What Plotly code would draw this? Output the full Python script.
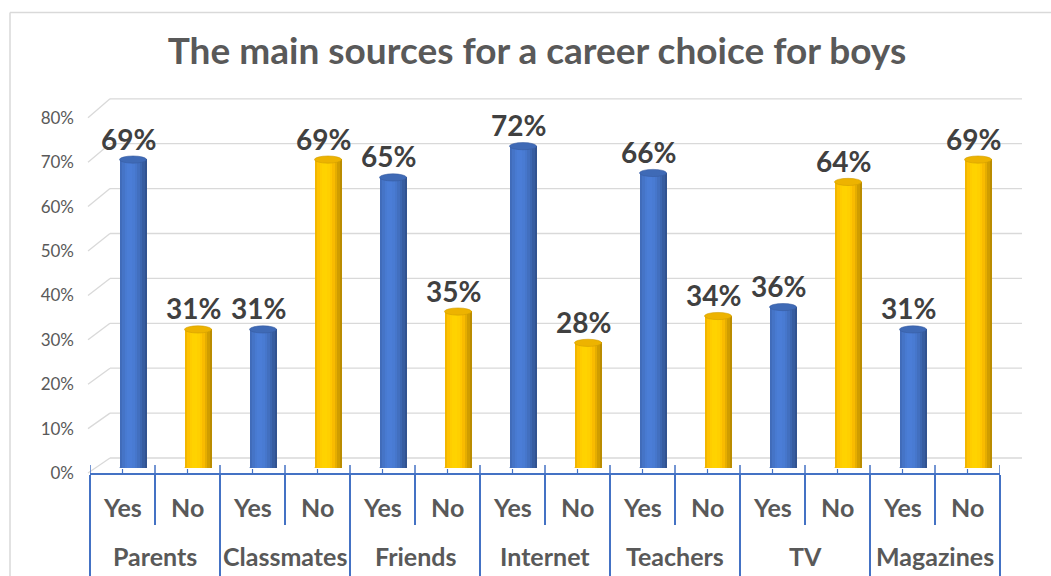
import math
import plotly.graph_objects as go

# ---- data ----
sources = ["Parents", "Classmates", "Friends", "Internet", "Teachers", "TV", "Magazines"]
answers = ["Yes", "No"]
yes_pct = [69, 31, 65, 72, 66, 36, 31]
no_pct = [31, 69, 35, 28, 34, 64, 69]
y_ticks = [0, 10, 20, 30, 40, 50, 60, 70, 80]

W, H = 1051, 576
FONT = "Lato"
GREY = "#595959"
AXIS_BLUE = "#4472C4"
BLUE = (68, 114, 196)
GOLD = (255, 192, 0)


def px_x(p):
    return p / W


def px_y(p):
    return 1 - p / H


# interleave Yes/No per source
values, inner, base_cols = [], [], []
for y, n in zip(yes_pct, no_pct):
    values += [y, n]
    inner += answers
    base_cols += [BLUE, GOLD]
xs = list(range(len(values)))
n_bars = len(values)


def shade(rgb, f):
    return "rgb(%d,%d,%d)" % tuple(min(255, max(0, round(c * f))) for c in rgb)


fig = go.Figure()

# cylinder bodies: vertical slices with a left-lit shading profile
BAR_W = 0.415
N_SLICES = 11
for k in range(N_SLICES):
    t = (k + 0.5) / N_SLICES
    f = 0.80 + 0.30 * math.cos(math.pi * (t - 0.38))
    fig.add_trace(go.Bar(
        x=xs, y=values,
        width=BAR_W / N_SLICES * 1.05,
        offset=-BAR_W / 2 + k * BAR_W / N_SLICES,
        marker=dict(color=[shade(c, f) for c in base_cols], line=dict(width=0)),
        xaxis="x", yaxis="y",
        hoverinfo="skip", showlegend=False,
    ))

# hidden trace that carries the front category axis and the value axis
fig.add_trace(go.Scatter(
    x=xs, y=[0] * n_bars, mode="markers", marker=dict(opacity=0),
    xaxis="x2", yaxis="y3", hoverinfo="skip", showlegend=False,
))

shapes = []
# back wall gridlines and floor perspective edges
for k, v in enumerate(y_ticks):
    yb = 458 - 44.9 * k
    yf = 473 - 44.4 * k
    shapes.append(dict(type="line", xref="paper", yref="paper",
                       x0=px_x(110), x1=px_x(1022), y0=px_y(yb), y1=px_y(yb),
                       line=dict(color="#d9d9d9", width=1.3), layer="below"))
    shapes.append(dict(type="line", xref="paper", yref="paper",
                       x0=px_x(88), x1=px_x(110), y0=px_y(yf), y1=px_y(yb),
                       line=dict(color="#d9d9d9", width=1.3), layer="below"))

# cylinder bottoms and tops
CAP_H = 0.8
for x, v, c in zip(xs, values, base_cols):
    shapes.append(dict(type="circle", xref="x", yref="y",
                       x0=x - BAR_W / 2, x1=x + BAR_W / 2, y0=-CAP_H, y1=CAP_H,
                       fillcolor=shade(c, 0.92), line=dict(width=0), layer="between"))
    shapes.append(dict(type="circle", xref="x", yref="y",
                       x0=x - BAR_W / 2, x1=x + BAR_W / 2, y0=v - CAP_H, y1=v + CAP_H,
                       fillcolor=shade(c, 0.93), line=dict(width=0.6, color=shade(c, 0.82)),
                       layer="above"))

# category tick stubs rising above the front axis line
for b in [i - 0.5 for i in range(n_bars + 1)]:
    shapes.append(dict(type="line", xref="x2", yref="paper",
                       x0=b, x1=b, y0=px_y(474), y1=px_y(465),
                       line=dict(color=AXIS_BLUE, width=1.5)))
for x in xs:
    shapes.append(dict(type="line", xref="x2", yref="paper",
                       x0=x, x1=x, y0=px_y(474), y1=px_y(469),
                       line=dict(color=AXIS_BLUE, width=1.2)))

# chart frame
shapes.append(dict(type="line", xref="paper", yref="paper",
                   x0=px_x(10), x1=1, y0=px_y(12.5), y1=px_y(12.5),
                   line=dict(color="#d9d9d9", width=1.5)))
shapes.append(dict(type="line", xref="paper", yref="paper",
                   x0=px_x(10), x1=px_x(10), y0=px_y(12.5), y1=0,
                   line=dict(color="#d9d9d9", width=1.5)))

label_font = dict(family=FONT, size=25, color=GREY, weight="bold")
annotations = []
# value labels
for x, v in zip(xs, values):
    annotations.append(dict(x=x, y=v, xref="x", yref="y", text=f"{v}%", showarrow=False,
                            yanchor="middle", yshift=21, xshift=-5,
                            font=dict(family=FONT, size=28, color="#404040", weight="bold")))
# Yes / No labels
for x, a in zip(xs, inner):
    annotations.append(dict(x=x, y=px_y(507), xref="x2", yref="paper", text=a,
                            showarrow=False, yanchor="middle", font=label_font))
# source labels
for i, s in enumerate(sources):
    annotations.append(dict(x=2 * i + 0.5, y=px_y(556), xref="x2", yref="paper", text=s,
                            showarrow=False, yanchor="middle", font=label_font))

group_edges = [2 * i - 0.5 for i in range(len(sources) + 1)]
inner_edges = [2 * i + 0.5 for i in range(len(sources))]

fig.update_layout(
    width=W, height=H,
    margin=dict(l=0, r=0, t=0, b=0, autoexpand=False),
    paper_bgcolor="white", plot_bgcolor="rgba(0,0,0,0)",
    barmode="overlay", bargap=0,
    title=dict(text="<b>The main sources for a career choice for boys</b>",
               x=px_x(537), xanchor="center", y=px_y(51), yanchor="middle",
               font=dict(family=FONT, size=37, color=GREY)),
    shapes=shapes,
    annotations=annotations,
    xaxis=dict(domain=[px_x(100.5), px_x(1010.5)], range=[-0.5, n_bars - 0.5],
               visible=False, anchor="y"),
    yaxis=dict(domain=[px_y(468), px_y(110.4)], range=[0, 80], visible=False, anchor="x"),
    xaxis2=dict(domain=[px_x(90), px_x(1000)], range=[-0.5, n_bars - 0.5], anchor="y3",
                showline=True, linecolor=AXIS_BLUE, linewidth=1.5,
                tickmode="array", tickvals=group_edges, showticklabels=False,
                ticks="outside", ticklen=110, tickwidth=1.5, tickcolor=AXIS_BLUE,
                minor=dict(tickmode="array", tickvals=inner_edges, ticks="outside",
                           ticklen=50, tickwidth=1.5, tickcolor=AXIS_BLUE, showgrid=False),
                showgrid=False, zeroline=False),
    yaxis3=dict(domain=[px_y(473), px_y(118)], range=[0, 80], anchor="free",
                position=px_x(88), tickvals=y_ticks, ticktext=[f"{v}%" for v in y_ticks],
                showgrid=False, zeroline=False, showline=False, ticks="",
                ticklabelstandoff=14,
                tickfont=dict(family=FONT, size=17, color=GREY)),
)

fig.write_html("out.html")
